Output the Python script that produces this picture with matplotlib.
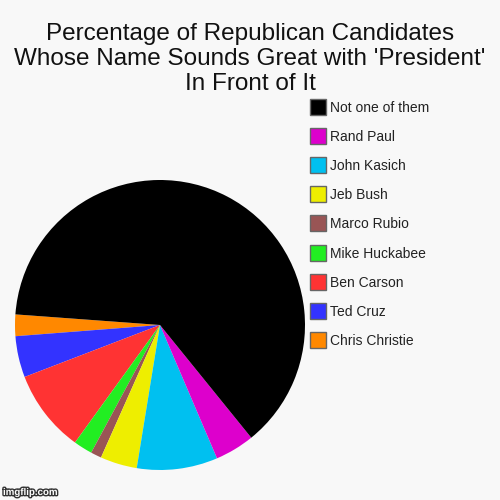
import matplotlib.pyplot as plt
import matplotlib.patheffects as pe
from matplotlib.patches import Rectangle

plt.rcParams['font.family'] = ['Liberation Sans', 'DejaVu Sans']

# slices, counter-clockwise from the left side
labels = ["Chris Christie", "Ted Cruz", "Ben Carson", "Mike Huckabee", "Marco Rubio",
          "Jeb Bush", "John Kasich", "Rand Paul", "Not one of them"]
values = [2.4, 4.6, 9.2, 2.1, 1.2, 4.1, 9.0, 4.4, 63.0]
colors = ["#FF8800", "#3333FF", "#FF3333", "#22EE22", "#995555",
          "#EEEE00", "#00C0F0", "#DD00CC", "#000000"]
title = "Percentage of Republican Candidates\nWhose Name Sounds Great with 'President'\nIn Front of It"

bg = "#F8F8F8"
fig = plt.figure(figsize=(5, 5), dpi=100, facecolor=bg)

# pie: centre (160, 325) px, radius 145 px
ax = fig.add_axes([15 / 500, 30 / 500, 290 / 500, 290 / 500])
ax.set_facecolor(bg)
ax.pie(values, colors=colors, startangle=175.8, counterclock=True, radius=1,
       wedgeprops=dict(linewidth=0))
ax.set_xlim(-1, 1)
ax.set_ylim(-1, 1)
ax.set_aspect('equal')
ax.axis('off')

fig.text(0.5, 1 - 59 / 500, title, ha='center', va='center', fontsize=17.5,
         color='#111111', linespacing=1.2)

# legend, top item is last slice
for i, (lab, col) in enumerate(zip(labels[::-1], colors[::-1])):
    yc = 107 + i * 29.1
    fig.patches.append(Rectangle((309.5 / 500, 1 - (yc + 8) / 500), 16 / 500, 16 / 500,
                                 transform=fig.transFigure, facecolor=col,
                                 edgecolor='#666666', linewidth=1))
    fig.text(330.5 / 500, 1 - (yc + 1) / 500, lab, ha='left', va='center',
             fontsize=10, color='#222222')

fig.text(3 / 500, 1 - 492 / 500, "imgflip.com", ha='left', va='center', fontsize=7,
         color='white', fontweight='bold',
         path_effects=[pe.withStroke(linewidth=2, foreground='#333333')])

fig.savefig('out.png', dpi=100, facecolor=bg)
